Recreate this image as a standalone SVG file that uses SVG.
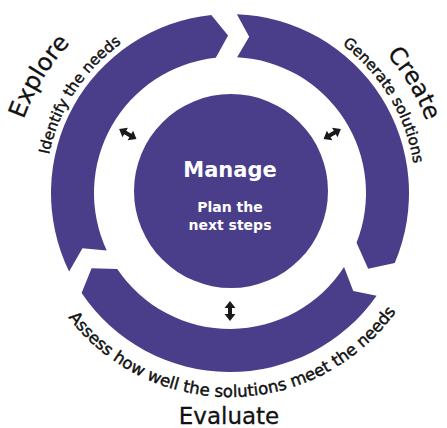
<svg xmlns="http://www.w3.org/2000/svg" xmlns:xlink="http://www.w3.org/1999/xlink" width="447" height="428" viewBox="0 0 447 428">
  <style>
    .seg { fill: #4a3e8b; }
    .big { font-family: "DejaVu Sans", "Liberation Sans", sans-serif; font-size: 24px; fill: #111; stroke: #111; stroke-width: 0.3; }
    .sub { font-family: "DejaVu Sans", "Liberation Sans", sans-serif; font-size: 15px; fill: #111; stroke: #111; stroke-width: 0.45; }
    .ctr { font-family: "DejaVu Sans", "Liberation Sans", sans-serif; fill: #fff; font-weight: bold; text-anchor: middle; }
    .arr { fill: #1a1a1a; }
  </style>
  <defs>
    <path id="p-explore" d="M 37.72 297.83 A 219 219 0 0 1 235.35 -25.93" fill="none"/>
    <path id="p-create" d="M 227.1 -16 A 209 209 0 0 1 412.4 295" fill="none"/>
    <path id="p-identify" d="M 65.16 276.99 A 185 185 0 0 1 239.68 8.25" fill="none"/>
    <path id="p-generate" d="M 226.75 7.03 A 186 186 0 0 1 392.68 283.17" fill="none"/>
    <path id="p-assess" d="M 39.55 266.11 A 204 204 0 0 0 422.89 259.42" fill="none"/>
    <path id="dbl" d="M -10 0 L -3 -5.5 L -3 -2 L 3 -2 L 3 -5.5 L 10 0 L 3 5.5 L 3 2 L -3 2 L -3 5.5 Z"/>
  </defs>

  <g id="node-explore">
    <path class="seg" d="M 69.12 271.47 L 82.47 248.16 L 106.74 250.48 A 136 136 0 0 1 215.79 57.75 L 228.08 35.51 L 211.29 14.98 A 179 179 0 0 0 69.12 271.47 Z"/>
    <text class="big" text-anchor="middle"><textPath href="#p-explore" startOffset="50%">Explore</textPath></text>
    <text class="sub" text-anchor="middle"><textPath href="#p-identify" startOffset="50%">Identify the needs</textPath></text>
  </g>

  <g id="node-create">
    <path class="seg" d="M 236.87 14.13 L 249.19 36.67 L 237.12 57.19 A 136 136 0 0 1 356.54 242.84 L 368.15 268.63 L 394.77 262.94 A 179 179 0 0 0 236.87 14.13 Z"/>
    <text class="big" text-anchor="middle" style="font-size:23.5px"><textPath href="#p-create" startOffset="50%">Create</textPath></text>
    <text class="sub" text-anchor="middle"><textPath href="#p-generate" startOffset="50%">Generate solutions</textPath></text>
  </g>

  <g id="node-evaluate">
    <path class="seg" d="M 376.63 295.67 L 353.26 291.05 L 344.06 267.07 A 136 136 0 0 1 117.25 269.05 L 91.59 268.15 L 81.60 293.10 A 179 179 0 0 0 376.63 295.67 Z"/>
    <text class="sub" style="font-size:16.5px" text-anchor="middle"><textPath href="#p-assess" startOffset="50%">Assess how well the solutions meet the needs</textPath></text>
    <text class="big" x="229" y="424" text-anchor="middle" style="font-size:23px">Evaluate</text>
  </g>

  <g id="node-manage">
    <circle cx="231" cy="191" r="97" class="seg"/>
    <text class="ctr" x="230" y="177" font-size="21">Manage</text>
    <text class="ctr" x="230" y="212" font-size="14">Plan the</text>
    <text class="ctr" x="230" y="230" font-size="14">next steps</text>
  </g>

  <g id="connectors">
    <use href="#dbl" class="arr" transform="translate(127.8 134) rotate(30)"/>
    <use href="#dbl" class="arr" transform="translate(332.2 134) rotate(-30)"/>
    <use href="#dbl" class="arr" transform="translate(230 311) rotate(90)"/>
  </g>
</svg>
